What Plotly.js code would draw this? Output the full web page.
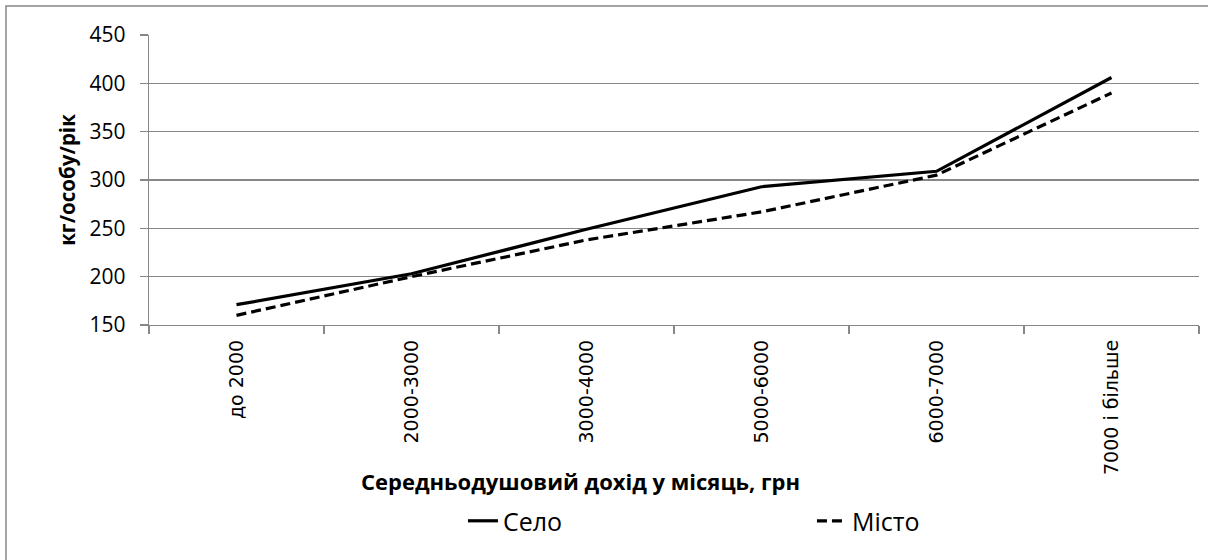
<!DOCTYPE html>
<html>
<head>
<meta charset="utf-8">
<script src="https://cdn.plot.ly/plotly-3.0.1.min.js"></script>
<style>
  html, body { margin: 0; padding: 0; background: #fff; }
  #chart { width: 1208px; height: 560px; }
</style>
</head>
<body>
<div id="chart"></div>
<script>
// Categories: average per-capita income per month, UAH
const categories = ['до 2000', '2000-3000', '3000-4000', '5000-6000', '6000-7000', '7000 і більше'];
// Series values, kg/person/year
const seloValues  = [171, 203, 249, 293, 309, 406];
const mistoValues = [160, 200, 238, 267, 305, 390];
// Y tick values
const yTicks = [150, 200, 250, 300, 350, 400, 450];

const seriesNames = ['Село', 'Місто'];
const yTitle = 'кг/особу/рік';
const xTitle = 'Середньодушовий дохід у місяць, грн';

const gray = '#878787';

const traces = [
  {
    x: categories, y: seloValues, name: seriesNames[0],
    type: 'scatter', mode: 'lines',
    line: { color: '#000000', width: 3.2 }
  },
  {
    x: categories, y: mistoValues, name: seriesNames[1],
    type: 'scatter', mode: 'lines',
    line: { color: '#000000', width: 3.2, dash: '10px,5px' }
  }
];

const layout = {
  width: 1208, height: 560,
  margin: { l: 149, r: 9, t: 35, b: 235 },
  paper_bgcolor: '#ffffff', plot_bgcolor: '#ffffff',
  showlegend: true,
  xaxis: {
    type: 'category',
    categoryorder: 'array', categoryarray: categories,
    range: [-0.5, categories.length - 0.5],
    tickson: 'boundaries',
    ticks: 'outside', ticklen: 8, tickcolor: gray, tickwidth: 1.3,
    showline: true, linecolor: gray, linewidth: 1.3,
    showgrid: false, zeroline: false,
    tickangle: -90,
    ticklabelstandoff: 6,
    tickfont: { family: 'DejaVu Sans', size: 19, color: '#000' },
    fixedrange: true
  },
  yaxis: {
    range: [150, 450],
    tickmode: 'array', tickvals: yTicks, ticktext: yTicks.map(String),
    ticks: 'outside', ticklen: 8, tickcolor: gray, tickwidth: 1.3,
    showline: true, linecolor: gray, linewidth: 1.3,
    showgrid: true, gridcolor: gray, gridwidth: 1.3,
    zeroline: false,
    ticklabelstandoff: 10,
    tickfont: { family: 'Open Sans', size: 21, color: '#000' },
    title: {
      text: yTitle, standoff: 8,
      font: { family: 'Open Sans', size: 20.5, color: '#000', weight: 'bold' }
    },
    fixedrange: true
  },
  legend: {
    orientation: 'h',
    x: 0.299, xanchor: 'left',
    y: -0.676, yanchor: 'middle',
    entrywidth: 304, entrywidthmode: 'pixels',
    font: { family: 'Open Sans', size: 25, color: '#000' },
    bgcolor: 'rgba(0,0,0,0)'
  },
  annotations: [
    {
      text: xTitle, showarrow: false,
      xref: 'paper', yref: 'paper',
      x: 0.4105, y: -0.538, xanchor: 'center', yanchor: 'middle',
      font: { family: 'Open Sans', size: 22, color: '#000', weight: 'bold' }
    }
  ],
  shapes: [
    {
      type: 'rect', xref: 'paper', yref: 'paper',
      x0: -0.1362, y0: 1.1, x1: 1.03, y1: -0.95,
      line: { color: gray, width: 1.5 }, fillcolor: 'rgba(0,0,0,0)',
      layer: 'below'
    }
  ]
};

Plotly.newPlot('chart', traces, layout, { displayModeBar: false, staticPlot: true });
</script>
</body>
</html>
